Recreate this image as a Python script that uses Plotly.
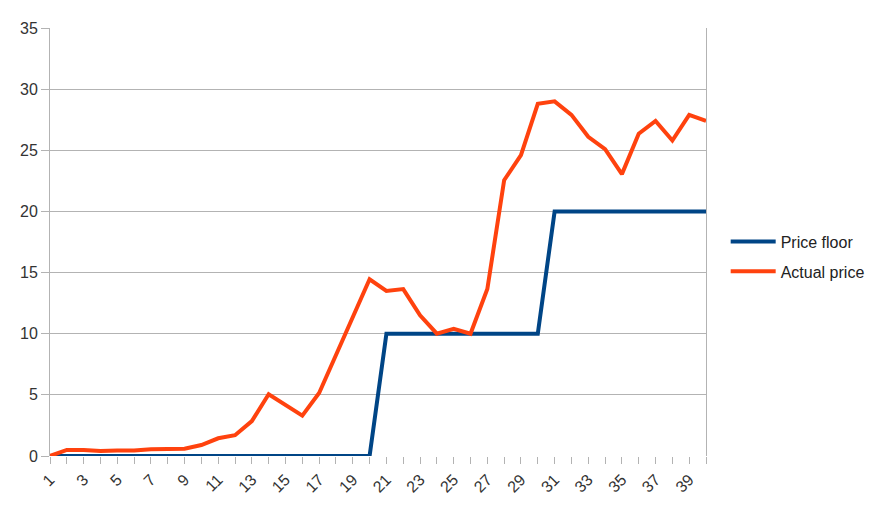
import plotly.graph_objects as go

periods = list(range(1, 41))
price_floor = [0]*20 + [10]*10 + [20]*10
actual_price = [0, 0.5, 0.5, 0.4, 0.45, 0.45, 0.55, 0.55, 0.6, 0.9,
                1.45, 1.7, 2.85, 5.05, 4.2, 3.3, 5.15, 8.3, 11.5, 14.45,
                13.5, 13.65, 11.5, 10.0, 10.4, 10.0, 13.65, 22.55, 24.6, 28.8,
                29.0, 27.9, 26.1, 25.1, 23.05, 26.35, 27.4, 25.8, 27.9, 27.4]
x_tick_text = [str(p) if p % 2 == 1 else "" for p in periods]
y_ticks = [0, 5, 10, 15, 20, 25, 30, 35]

fig = go.Figure()
fig.add_trace(go.Scatter(x=periods, y=price_floor, mode="lines", name="Price floor",
                         legendgroup="a",
                         line=dict(color="#004586", width=4)))
fig.add_trace(go.Scatter(x=periods, y=actual_price, mode="lines", name="Actual price",
                         legendgroup="b",
                         line=dict(color="#ff420e", width=4)))

fig.update_layout(
    width=888, height=516,
    margin=dict(l=42, r=190, t=15, b=68),
    paper_bgcolor="white", plot_bgcolor="white",
    font=dict(family="Liberation Sans", size=16, color="#333333"),
    showlegend=True,
    legend=dict(x=1.03, y=0.466, xanchor="left", yanchor="middle",
                font=dict(size=16, color="#222222"), itemwidth=45,
                tracegroupgap=6),
    xaxis=dict(range=[1, 40], tickmode="array", tickvals=periods, ticktext=x_tick_text,
               tickangle=-45, ticks="outside", ticklen=7, tickcolor="#b3b3b3",
               showgrid=False, zeroline=False, showline=False,
               tickfont=dict(size=16, color="#333333")),
    yaxis=dict(range=[0, 35], tickmode="array", tickvals=y_ticks,
               showgrid=True, gridcolor="#b3b3b3", gridwidth=1,
               zeroline=False, showline=True, linecolor="#b3b3b3", mirror=True,
               ticks="outside", ticklen=8, tickcolor="#b3b3b3",
               tickfont=dict(size=16, color="#333333")),
)

fig.write_html("out.html")
